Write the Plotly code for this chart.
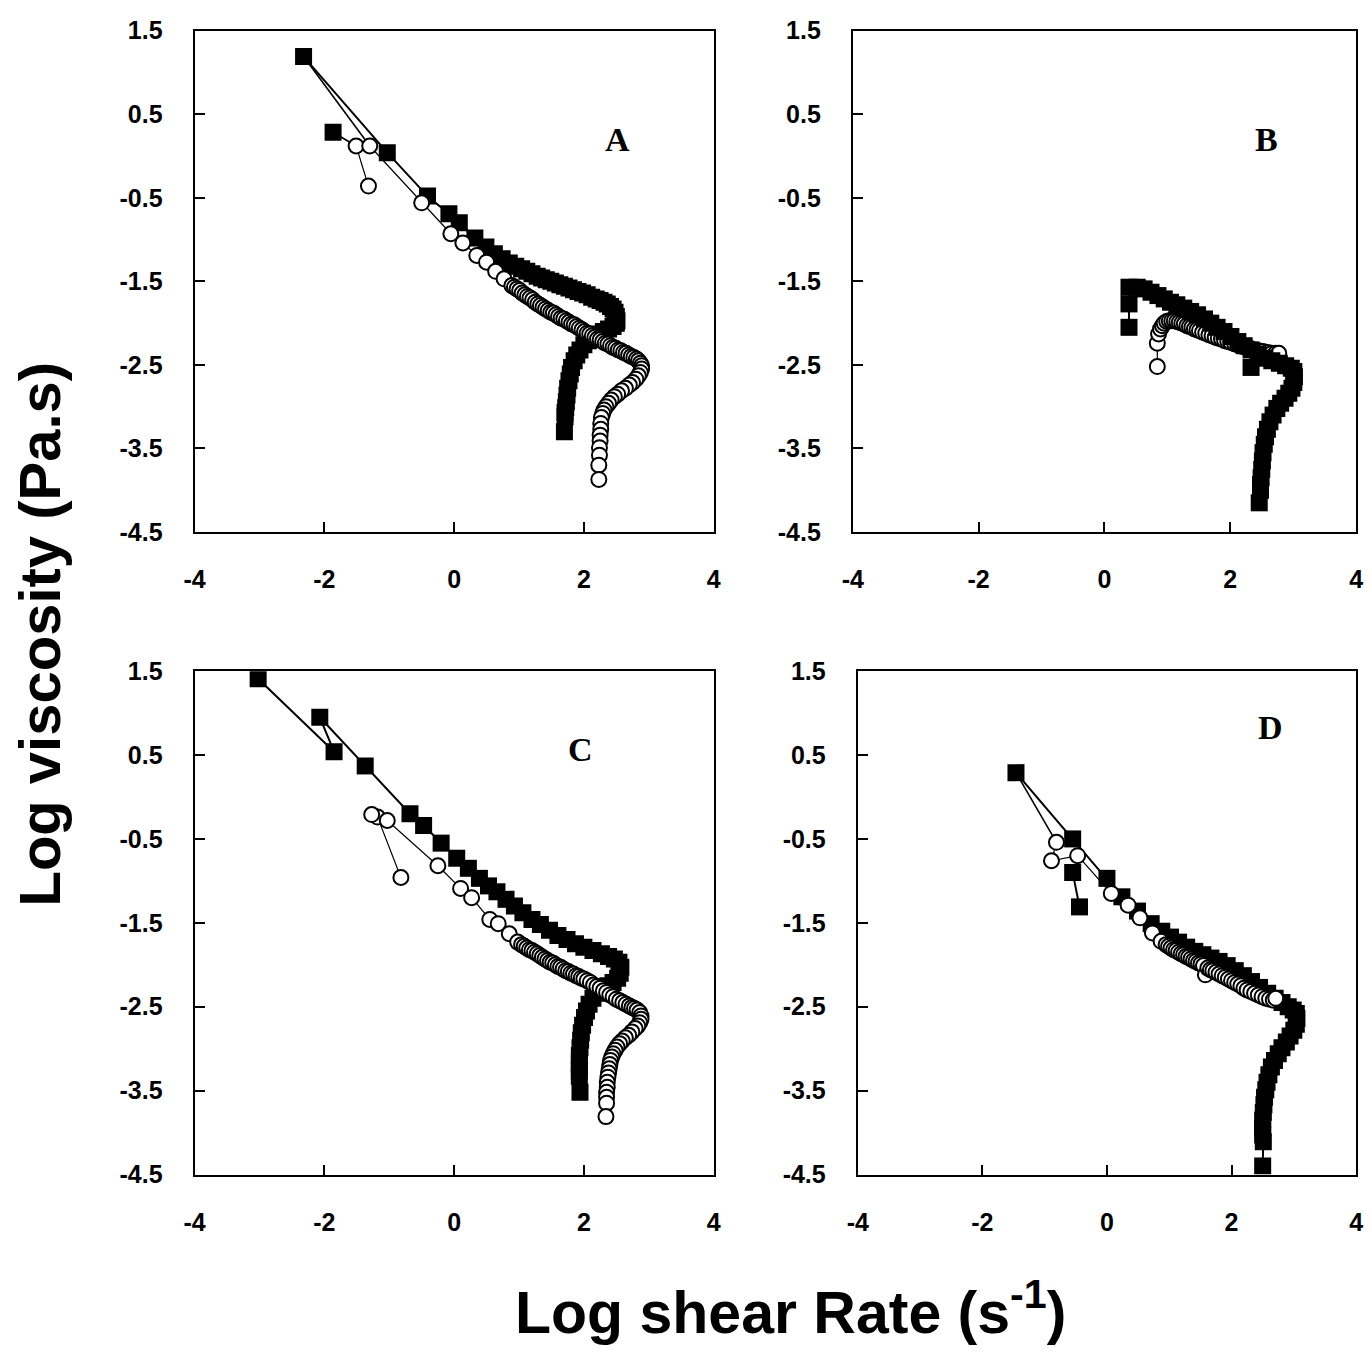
import plotly.graph_objects as go

# ---------------- DATA ----------------
# Panel A
A_sq_x = [-1.865, None, -2.32, -1.03, -0.41, -0.08, 0.08, 0.32, 0.49,
          0.62, 0.74, 0.85, 0.95, 1.04, 1.12, 1.20, 1.28, 1.35, 1.42, 1.49, 1.56, 1.63, 1.70, 1.77, 1.84,
          1.91, 1.98, 2.05, 2.12, 2.19, 2.25, 2.31, 2.36, 2.41, 2.45, 2.48, 2.50, 2.51,
          2.50, 2.45, 2.38, 2.30, 2.22, 2.14, 2.07, 2.00, 1.94, 1.89, 1.85, 1.81, 1.79, 1.77, 1.75,
          1.74, 1.73, 1.72, 1.71, 1.71, 1.70]
A_sq_y = [0.285, None, 1.19, 0.04, -0.48, -0.69, -0.80, -0.98, -1.09,
          -1.17, -1.23, -1.28, -1.32, -1.35, -1.38, -1.41, -1.44, -1.46, -1.48, -1.50, -1.52, -1.54, -1.56, -1.58, -1.60,
          -1.62, -1.64, -1.66, -1.69, -1.71, -1.73, -1.75, -1.77, -1.80, -1.83, -1.87, -1.92, -1.97,
          -2.00, -2.04, -2.07, -2.10, -2.13, -2.17, -2.21, -2.26, -2.32, -2.38, -2.45, -2.53, -2.61, -2.69, -2.78,
          -2.86, -2.94, -3.01, -3.07, -3.12, -3.30]
A_ci_x = [-1.51, -1.32, None, -1.30, -0.50, -0.05, 0.135, 0.35, 0.50, 0.64, 0.77, 0.89,
          0.93, 0.97, 1.01, 1.05, 1.09, 1.13, 1.17, 1.21, 1.25, 1.29, 1.33, 1.37, 1.41, 1.45, 1.49,
          1.53, 1.57, 1.61, 1.65, 1.69, 1.73, 1.77, 1.81, 1.85, 1.89, 1.93, 1.97, 2.01, 2.05, 2.09,
          2.13, 2.17, 2.21, 2.25, 2.29, 2.33, 2.37, 2.41, 2.45, 2.49, 2.53, 2.57, 2.61, 2.65, 2.69,
          2.73, 2.77, 2.81, 2.84, 2.87, 2.89,
          2.89, 2.87, 2.84, 2.80, 2.75, 2.70, 2.64, 2.58, 2.52, 2.47, 2.42, 2.38, 2.34, 2.31, 2.29,
          2.27, 2.26, 2.26, 2.25, 2.25, 2.24, 2.24, 2.23, 2.23]
A_ci_y = [0.12, -0.36, None, 0.12, -0.56, -0.93, -1.04, -1.19, -1.27, -1.38, -1.47, -1.55,
          -1.57, -1.59, -1.61, -1.64, -1.66, -1.68, -1.70, -1.72, -1.75, -1.77, -1.79, -1.81, -1.83, -1.85, -1.87,
          -1.88, -1.90, -1.92, -1.94, -1.95, -1.97, -1.99, -2.01, -2.02, -2.04, -2.06, -2.08, -2.10, -2.12, -2.13,
          -2.15, -2.17, -2.19, -2.20, -2.22, -2.24, -2.25, -2.27, -2.29, -2.30, -2.32, -2.33, -2.35, -2.36, -2.38,
          -2.40, -2.41, -2.43, -2.45, -2.48, -2.51,
          -2.55, -2.59, -2.63, -2.67, -2.71, -2.74, -2.78, -2.81, -2.85, -2.88, -2.92, -2.96, -3.00, -3.04, -3.08,
          -3.13, -3.20, -3.27, -3.34, -3.41, -3.49, -3.58, -3.70, -3.87]
A_links = [(0, 0), (2, 3)]   # (square index, circle index)

# Panel B
B_sq_x = [0.39, 0.39, 0.39, 0.52, 0.63, 0.74, 0.85, 0.95, 1.05, 1.15, 1.26, 1.37, 1.48, 1.59, 1.69,
          1.79, 1.90, 2.01, 2.12, 2.22, 2.33, 2.44, 2.55, 2.66, 2.78, 2.88, 2.97, 3.01, 3.02, 3.01,
          2.98, 2.93, 2.87, 2.80, 2.74, 2.68, 2.63, 2.59, 2.56, 2.54, 2.52, 2.51, 2.50, 2.49, 2.48,
          2.48, 2.46, None, 2.33]
B_sq_y = [-2.05, -1.77, -1.57, -1.57, -1.59, -1.63, -1.67, -1.71, -1.75, -1.78, -1.82, -1.86, -1.90, -1.95, -2.00,
          -2.05, -2.10, -2.16, -2.22, -2.27, -2.32, -2.37, -2.42, -2.45, -2.48, -2.51, -2.54, -2.58, -2.64, -2.71,
          -2.78, -2.84, -2.90, -2.96, -3.02, -3.10, -3.18, -3.27, -3.36, -3.45, -3.55, -3.65, -3.75, -3.85, -3.93,
          -4.00, -4.15, None, -2.53]
B_ci_x = [0.84, 0.84, 0.86, 0.89, 0.92, 0.95, 0.99, 1.03, 1.07, 1.11, 1.15, 1.19, 1.23, 1.27, 1.31,
          1.35, 1.39, 1.43, 1.47, 1.51, 1.56, 1.61, 1.66, 1.71, 1.76, 1.81, 1.86, 1.91, 1.96, 2.01,
          2.07, 2.13, 2.19, 2.25, 2.31, 2.38, 2.45, 2.52, 2.59, 2.66, 2.72, 2.77]
B_ci_y = [-2.52, -2.24, -2.13, -2.07, -2.03, -2.00, -1.98, -1.97, -1.97, -1.97, -1.98, -1.99, -2.00, -2.01, -2.03,
          -2.04, -2.05, -2.07, -2.08, -2.09, -2.11, -2.12, -2.14, -2.15, -2.17, -2.18, -2.19, -2.21, -2.22, -2.23,
          -2.25, -2.26, -2.28, -2.29, -2.30, -2.32, -2.33, -2.34, -2.35, -2.36, -2.36, -2.36]
B_links = []

# Panel C
C_sq_x = [-3.02, -1.85, -2.07, -1.37, -0.68, -0.47, -0.20, 0.04, 0.22, 0.39, 0.53, 0.66, 0.80, 0.93,
          1.06, 1.20, 1.33, 1.47, 1.60, 1.74, 1.87, 2.00, 2.14, 2.27, 2.38, 2.47, 2.54, 2.57, 2.56,
          2.52, 2.45, 2.37, 2.29, 2.21, 2.14, 2.08, 2.04, 2.01, 1.98, 1.96, 1.95, 1.94, 1.93, 1.93,
          1.93, 1.93, 1.94]
C_sq_y = [1.41, 0.54, 0.95, 0.37, -0.20, -0.34, -0.55, -0.73, -0.85, -0.97, -1.06, -1.13, -1.22, -1.30,
          -1.38, -1.46, -1.52, -1.59, -1.65, -1.70, -1.75, -1.79, -1.83, -1.87, -1.90, -1.93, -1.97, -2.03, -2.10,
          -2.16, -2.21, -2.25, -2.29, -2.34, -2.40, -2.47, -2.55, -2.63, -2.72, -2.81, -2.90, -2.99, -3.08, -3.17,
          -3.26, -3.33, -3.52]
C_ci_x = [-0.82, -1.18, -1.27, -1.03, -0.25, 0.10, 0.27, 0.55, 0.68, 0.85, 0.98,
          1.04, 1.08, 1.12, 1.16, 1.20, 1.24, 1.28, 1.32, 1.36, 1.40, 1.44, 1.48, 1.52, 1.56, 1.60,
          1.64, 1.68, 1.72, 1.76, 1.80, 1.84, 1.88, 1.92, 1.96, 2.00, 2.05, 2.10, 2.15, 2.20, 2.25,
          2.30, 2.35, 2.40, 2.45, 2.50, 2.55, 2.60, 2.65, 2.70, 2.74, 2.78, 2.82, 2.86, 2.88, 2.88,
          2.86, 2.83, 2.79, 2.74, 2.69, 2.64, 2.59, 2.55, 2.51, 2.48, 2.45, 2.43, 2.41, 2.40, 2.39,
          2.38, 2.37, 2.36, 2.36, 2.35, 2.35, 2.35, 2.34]
C_ci_y = [-0.96, -0.24, -0.21, -0.28, -0.82, -1.09, -1.20, -1.46, -1.51, -1.63, -1.73,
          -1.76, -1.78, -1.80, -1.82, -1.83, -1.85, -1.87, -1.89, -1.91, -1.93, -1.95, -1.97, -1.98, -2.00, -2.02,
          -2.03, -2.05, -2.07, -2.08, -2.10, -2.11, -2.13, -2.14, -2.16, -2.17, -2.19, -2.21, -2.24, -2.26, -2.28,
          -2.31, -2.33, -2.36, -2.38, -2.41, -2.43, -2.45, -2.47, -2.49, -2.51, -2.52, -2.54, -2.57, -2.61, -2.65,
          -2.69, -2.73, -2.76, -2.80, -2.84, -2.87, -2.91, -2.94, -2.98, -3.02, -3.06, -3.10, -3.14, -3.19, -3.24,
          -3.29, -3.34, -3.40, -3.46, -3.52, -3.58, -3.65, -3.81]
C_links = []

# Panel D
D_sq_x = [-1.46, -0.55, 0.0, 0.24, 0.49, 0.71, 0.88, 1.02, 1.15, 1.28, 1.41, 1.54, 1.67, 1.80, 1.93,
          2.06, 2.19, 2.32, 2.45, 2.58, 2.70, 2.81, 2.91, 2.99, 3.04, 3.05, 3.04, 3.00, 2.94, 2.88,
          2.81, 2.75, 2.69, 2.64, 2.60, 2.57, 2.55, 2.53, 2.52, 2.51, 2.50, 2.50, 2.50, 2.51, 2.50,
          None, -0.55, -0.44]
D_sq_y = [0.29, -0.50, -0.97, -1.19, -1.36, -1.51, -1.60, -1.67, -1.73, -1.79, -1.84, -1.88, -1.92, -1.96, -2.01,
          -2.07, -2.13, -2.20, -2.27, -2.34, -2.40, -2.45, -2.50, -2.54, -2.58, -2.64, -2.71, -2.78, -2.85, -2.92,
          -2.99, -3.06, -3.14, -3.22, -3.31, -3.40, -3.49, -3.58, -3.67, -3.76, -3.85, -3.94, -4.03, -4.11, -4.40,
          None, -0.90, -1.31]
D_ci_x = [-0.81, -0.89, -0.47, 0.07, 0.34, 0.53, 0.73, 0.87, 0.95, 0.99, 1.03, 1.07, 1.11, 1.15,
          1.19, 1.23, 1.27, 1.31, 1.35, 1.39, 1.43, 1.47, 1.51, 1.55, 1.58, 1.62, 1.66, 1.70, 1.75,
          1.80, 1.85, 1.90, 1.95, 2.00, 2.05, 2.10, 2.15, 2.20, 2.25, 2.31, 2.37, 2.43, 2.49, 2.55,
          2.61, 2.67, 2.71]
D_ci_y = [-0.54, -0.76, -0.70, -1.15, -1.29, -1.44, -1.62, -1.72, -1.76, -1.78, -1.80, -1.82, -1.83, -1.85,
          -1.87, -1.88, -1.90, -1.91, -1.93, -1.95, -1.96, -1.98, -1.99, -2.01, -2.12, -2.04, -2.06, -2.07, -2.09,
          -2.11, -2.13, -2.15, -2.17, -2.19, -2.21, -2.23, -2.25, -2.28, -2.30, -2.32, -2.34, -2.36, -2.38, -2.40,
          -2.41, -2.42, -2.40]
D_links = [(0, 0)]

x_ticks = [-4, -2, 0, 2, 4]
x_ticktext = ["-4", "-2", "0", "2", "4"]
y_ticks = [1.5, 0.5, -0.5, -1.5, -2.5, -3.5, -4.5]
y_ticktext = ["1.5", "0.5", "-0.5", "-1.5", "-2.5", "-3.5", "-4.5"]
panel_labels = ["A", "B", "C", "D"]

# ---------------- FIGURE ----------------
W, H = 1372, 1355
# plot areas in figure pixels: (left, right, top, bottom)
boxes = [(186, 712, 17, 529), (853, 1363, 17, 529), (186, 712, 671, 1185), (858, 1363, 671, 1185)]
label_pos = [(615, 128), (1272, 128), (577, 751), (1276, 729)]
circles_on_top = [True, False, True, True]


def px_x(p):
    return p / W


def px_y(p):
    return 1 - p / H


panels = [
    (A_sq_x, A_sq_y, A_ci_x, A_ci_y, A_links),
    (B_sq_x, B_sq_y, B_ci_x, B_ci_y, B_links),
    (C_sq_x, C_sq_y, C_ci_x, C_ci_y, C_links),
    (D_sq_x, D_sq_y, D_ci_x, D_ci_y, D_links),
]

fig = go.Figure()
tickfont = dict(family="Liberation Sans, Arial, sans-serif", size=25, color="black", weight="bold")

for i, (sx, sy, cx, cy, links) in enumerate(panels):
    n = i + 1
    xa = "x" if n == 1 else f"x{n}"
    ya = "y" if n == 1 else f"y{n}"

    sq_trace = go.Scatter(x=sx, y=sy, xaxis=xa, yaxis=ya, mode="lines+markers",
                          line=dict(color="black", width=2),
                          marker=dict(symbol="square", size=17, color="black", line=dict(width=0)),
                          connectgaps=False, hoverinfo="skip")
    link_traces = [go.Scatter(x=[sx[a], cx[b]], y=[sy[a], cy[b]], xaxis=xa, yaxis=ya, mode="lines",
                              line=dict(color="black", width=1.6), hoverinfo="skip")
                   for a, b in links]
    ci_trace = go.Scatter(x=cx, y=cy, xaxis=xa, yaxis=ya, mode="lines+markers",
                          line=dict(color="black", width=1.2),
                          marker=dict(symbol="circle", size=15, color="white",
                                      line=dict(color="black", width=2)),
                          connectgaps=False, hoverinfo="skip")
    if circles_on_top[i]:
        for t in [sq_trace] + link_traces + [ci_trace]:
            fig.add_trace(t)
    else:
        for t in link_traces + [ci_trace, sq_trace]:
            fig.add_trace(t)

    l, r, t, b = boxes[i]
    xkey = "xaxis" if n == 1 else f"xaxis{n}"
    ykey = "yaxis" if n == 1 else f"yaxis{n}"
    fig.update_layout(**{
        xkey: dict(domain=[px_x(l), px_x(r)], anchor=ya, range=[-4, 4],
                   tickvals=x_ticks, ticktext=x_ticktext,
                   ticks="inside", ticklen=10, tickwidth=2, tickcolor="black",
                   showline=True, linewidth=2, linecolor="black", mirror=True,
                   showgrid=False, zeroline=False, tickfont=tickfont, ticklabelstandoff=24),
        ykey: dict(domain=[px_y(b), px_y(t)], anchor=xa, range=[-4.5, 1.5],
                   tickvals=y_ticks, ticktext=y_ticktext,
                   ticks="inside", ticklen=10, tickwidth=2, tickcolor="black",
                   showline=True, linewidth=2, linecolor="black", mirror=True,
                   showgrid=False, zeroline=False, tickfont=tickfont, ticklabelstandoff=25),
    })
    lx, ly = label_pos[i]
    fig.add_annotation(x=px_x(lx), y=px_y(ly), xref="paper", yref="paper",
                       xanchor="center", yanchor="middle",
                       text=panel_labels[i], showarrow=False,
                       font=dict(family="Liberation Serif, Times New Roman, serif", size=34,
                                 color="black", weight="bold"))

fig.add_annotation(x=px_x(29), y=px_y(633), xref="paper", yref="paper",
                   xanchor="center", yanchor="middle",
                   text="Log viscosity (Pa.s)", textangle=-90, showarrow=False,
                   font=dict(family="Liberation Sans, Arial, sans-serif", size=58, color="black", weight="bold"))
fig.add_annotation(x=px_x(790), y=px_y(1322), xref="paper", yref="paper",
                   xanchor="center", yanchor="middle",
                   text="Log shear Rate (s<sup>-1</sup>)", showarrow=False,
                   font=dict(family="Liberation Sans, Arial, sans-serif", size=59, color="black", weight="bold"))

fig.update_layout(width=W, height=H, margin=dict(l=0, r=0, t=0, b=0),
                  paper_bgcolor="white", plot_bgcolor="white", showlegend=False)

fig.write_html("out.html")
